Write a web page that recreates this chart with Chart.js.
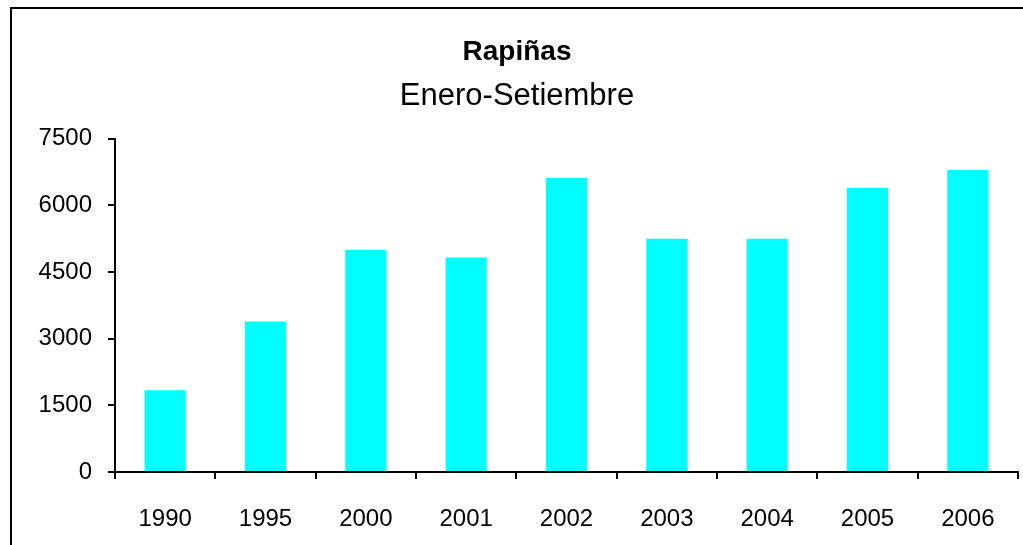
<!DOCTYPE html>
<html>
<head>
<meta charset="utf-8">
<script src="https://cdn.jsdelivr.net/npm/chart.js@4"></script>
<style>
  html, body { margin: 0; padding: 0; background: #fff; }
  #wrap { position: relative; width: 1023px; height: 545px; overflow: hidden; }
  #frame { position: absolute; left: 10px; top: 7px; width: 1100px; height: 600px; border: 2px solid #000; box-sizing: border-box; }
  canvas { position: absolute; left: 0; top: 0; }
</style>
</head>
<body>
<div id="wrap">
  <div id="frame"></div>
  <canvas id="chart" width="1023" height="545"></canvas>
</div>
<script>
const years = ['1990', '1995', '2000', '2001', '2002', '2003', '2004', '2005', '2006'];
const rapinas = [1840, 3390, 5000, 4830, 6620, 5250, 5250, 6400, 6800];
const yTicks = [0, 1500, 3000, 4500, 6000, 7500];

const font = 'Liberation Sans, Arial, sans-serif';

window.renderChart = (canvasId, config) => {
    const canvas = document.getElementById(canvasId);
    if (!canvas) return;
    return new Chart(canvas.getContext('2d'), config);
};

window.renderChart('chart', {
    type: 'bar',
    data: {
        labels: years,
        datasets: [{
            data: rapinas,
            backgroundColor: '#00ffff',
            borderWidth: 0,
            barPercentage: 0.41,
            categoryPercentage: 1
        }]
    },
    options: {
        responsive: false,
        animation: false,
        // left padding shifts the centred titles; y axis width keeps the plot at x=115
        layout: { padding: { left: 16, right: 5, top: 0, bottom: 0 } },
        plugins: {
            legend: { display: false },
            tooltip: { enabled: false },
            title: {
                display: true,
                text: 'Rapiñas',
                color: '#000',
                font: { family: font, size: 28, weight: 'bold' },
                padding: { top: 35, bottom: 0 }
            },
            subtitle: {
                display: true,
                text: 'Enero-Setiembre',
                color: '#000',
                font: { family: font, size: 31 },
                padding: { top: 9, bottom: 24 }
            }
        },
        scales: {
            x: {
                grid: { display: true, drawOnChartArea: false, color: '#000', lineWidth: 2, tickLength: 7, offset: true },
                border: { color: '#000', width: 2 },
                ticks: { color: '#000', font: { family: font, size: 24 }, padding: 26, maxRotation: 0 },
                afterFit: (scale) => { scale.height = 73; }
            },
            y: {
                min: 0,
                max: 7500,
                afterBuildTicks: (scale) => { scale.ticks = yTicks.map(v => ({ value: v })); },
                grid: { display: true, drawOnChartArea: false, color: '#000', lineWidth: 2, tickLength: 7 },
                border: { color: '#000', width: 2 },
                ticks: {
                    color: '#000',
                    font: { family: font, size: 24 },
                    padding: 16,
                    callback: (v) => String(v)
                },
                afterFit: (scale) => { scale.width = 99; }
            }
        }
    }
});
</script>
</body>
</html>
